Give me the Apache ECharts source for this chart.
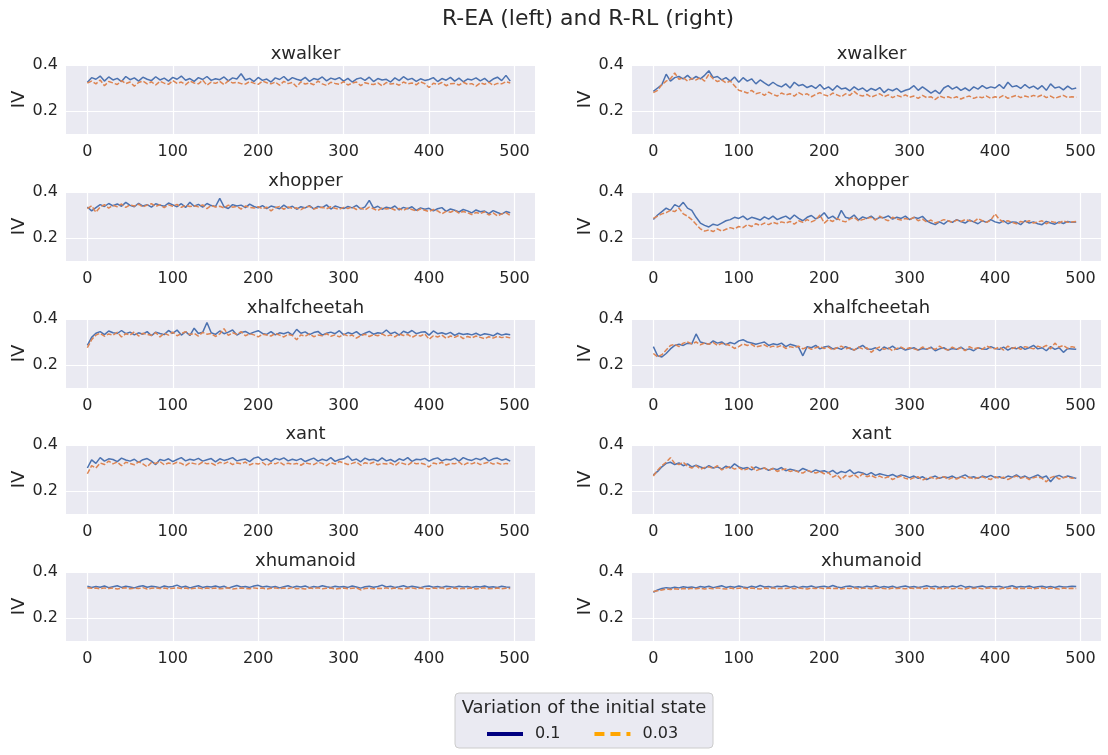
<!DOCTYPE html>
<html>
<head>
<meta charset="utf-8">
<script src="https://cdn.jsdelivr.net/npm/echarts@6/dist/echarts.min.js"></script>
<style>html,body{margin:0;padding:0;background:#fff}#chart{width:1108px;height:755px}</style>
</head>
<body>
<div id="chart"></div>
<script>
// x positions (iteration) of the sampled points
const steps = Array.from({length: 100}, (_, i) => i * 5);
const xTicks = [0, 100, 200, 300, 400, 500];
const yTicks = [0.2, 0.4];
const envNames = ['xwalker', 'xhopper', 'xhalfcheetah', 'xant', 'xhumanoid'];
const seriesNames = ['0.1', '0.03'];

// ---- R-EA (left column) ----
const eaWalker01 = [
.325,.345,.338,.352,.33,.348,.335,.342,.328,.35,
.336,.344,.33,.347,.338,.332,.349,.335,.343,.33,
.346,.338,.352,.334,.341,.329,.345,.337,.35,.333,
.34,.336,.348,.331,.344,.339,.362,.335,.342,.328,
.346,.333,.339,.326,.344,.337,.35,.332,.345,.338,
.333,.346,.329,.341,.336,.348,.331,.343,.337,.345,
.33,.342,.326,.339,.344,.333,.347,.328,.341,.335,
.338,.326,.344,.332,.349,.336,.342,.329,.34,.333,
.337,.345,.328,.341,.334,.346,.33,.343,.327,.339,
.335,.344,.331,.342,.326,.339,.347,.332,.355,.33];
const eaWalker003 = [
.322,.33,.318,.335,.31,.328,.322,.315,.332,.319,
.326,.308,.324,.33,.318,.327,.313,.329,.321,.316,
.332,.32,.326,.314,.33,.322,.318,.334,.312,.326,
.32,.329,.315,.331,.322,.325,.319,.317,.328,.321,
.316,.33,.323,.318,.326,.312,.329,.319,.324,.305,
.327,.317,.322,.314,.33,.318,.311,.325,.32,.316,
.328,.313,.321,.326,.31,.323,.318,.315,.322,.309,
.324,.317,.32,.312,.326,.318,.322,.314,.327,.319,
.302,.321,.315,.324,.31,.318,.32,.313,.325,.316,
.319,.308,.322,.316,.325,.312,.32,.318,.327,.322];
const eaHopper01 = [
.335,.318,.332,.345,.337,.35,.34,.348,.338,.355,
.342,.336,.351,.339,.345,.334,.349,.343,.338,.352,
.344,.336,.349,.333,.355,.338,.346,.334,.35,.341,
.337,.372,.336,.328,.345,.339,.343,.332,.347,.337,
.331,.341,.328,.339,.334,.327,.343,.33,.338,.325,
.336,.331,.341,.327,.337,.332,.344,.326,.339,.333,
.328,.337,.331,.342,.326,.335,.364,.33,.338,.325,
.334,.329,.339,.322,.333,.327,.336,.32,.331,.325,
.329,.318,.327,.332,.316,.326,.321,.313,.324,.318,
.309,.322,.314,.317,.306,.319,.311,.304,.315,.31];
const eaHopper003 = [
.328,.34,.312,.335,.345,.33,.342,.336,.348,.333,
.344,.339,.347,.335,.343,.349,.337,.345,.332,.344,
.338,.346,.333,.342,.337,.34,.336,.344,.328,.341,
.335,.338,.331,.343,.334,.337,.326,.339,.333,.33,
.336,.327,.334,.318,.332,.337,.325,.335,.329,.331,
.323,.334,.338,.326,.331,.334,.327,.336,.329,.325,
.333,.328,.335,.324,.33,.322,.334,.327,.319,.331,
.326,.33,.322,.328,.32,.33,.324,.317,.327,.321,
.315,.324,.318,.305,.316,.312,.32,.308,.315,.31,
.302,.311,.306,.314,.3,.309,.296,.305,.31,.298];
const eaCheetah01 = [
.285,.32,.338,.345,.332,.348,.34,.337,.35,.336,
.343,.331,.34,.334,.345,.327,.343,.337,.332,.35,
.338,.352,.33,.345,.328,.36,.337,.342,.385,.34,
.333,.348,.336,.343,.352,.33,.341,.346,.335,.343,
.349,.337,.333,.345,.331,.34,.336,.343,.33,.355,
.338,.344,.332,.341,.346,.33,.338,.343,.336,.349,
.331,.341,.335,.345,.33,.338,.346,.334,.34,.337,
.352,.336,.343,.33,.347,.339,.35,.336,.342,.345,
.33,.348,.336,.34,.334,.342,.329,.338,.333,.336,
.331,.338,.329,.336,.333,.327,.338,.33,.335,.332];
const eaCheetah003 = [
.275,.31,.33,.338,.325,.335,.33,.342,.322,.336,
.33,.344,.326,.338,.333,.329,.341,.322,.338,.33,
.343,.327,.336,.345,.332,.338,.326,.342,.334,.337,
.324,.335,.358,.329,.34,.333,.345,.327,.336,.331,
.322,.334,.33,.326,.337,.33,.322,.333,.328,.31,
.331,.325,.335,.323,.33,.327,.336,.325,.331,.322,
.334,.326,.33,.317,.328,.334,.324,.332,.327,.335,
.325,.331,.322,.336,.328,.333,.32,.33,.326,.335,
.312,.327,.322,.33,.316,.326,.32,.329,.315,.324,
.318,.326,.32,.314,.323,.317,.325,.319,.322,.318];
const eaAnt01 = [
.3,.335,.32,.345,.33,.34,.337,.328,.343,.335,
.33,.338,.324,.336,.341,.33,.315,.337,.332,.34,
.328,.337,.345,.331,.338,.334,.342,.33,.336,.341,
.327,.34,.333,.338,.345,.331,.336,.339,.328,.343,
.348,.333,.34,.329,.342,.336,.344,.331,.338,.333,
.341,.328,.336,.343,.33,.338,.332,.345,.329,.337,
.34,.352,.333,.339,.327,.343,.335,.338,.33,.344,
.331,.337,.327,.34,.333,.345,.329,.338,.336,.342,
.33,.339,.344,.331,.338,.335,.343,.33,.345,.337,
.333,.342,.336,.345,.331,.34,.343,.334,.339,.33];
const eaAnt003 = [
.275,.31,.3,.322,.315,.33,.318,.326,.31,.325,
.32,.314,.327,.318,.305,.324,.32,.328,.314,.322,
.317,.325,.32,.31,.323,.319,.315,.326,.318,.321,
.312,.325,.319,.327,.315,.322,.318,.326,.313,.321,
.317,.324,.31,.322,.318,.326,.314,.321,.316,.32,
.312,.323,.318,.315,.325,.32,.31,.324,.317,.328,
.322,.315,.32,.326,.312,.323,.318,.325,.314,.32,
.317,.322,.31,.324,.319,.313,.325,.318,.321,.316,
.304,.322,.317,.325,.313,.32,.318,.326,.312,.322,
.318,.325,.315,.321,.326,.317,.322,.315,.32,.318];
const eaHumanoid01 = [
.338,.333,.337,.334,.339,.332,.336,.34,.333,.338,
.335,.331,.337,.34,.334,.338,.336,.332,.339,.335,
.337,.343,.334,.338,.331,.336,.34,.333,.337,.335,
.339,.334,.338,.33,.336,.341,.335,.337,.333,.339,
.342,.335,.338,.334,.337,.331,.336,.34,.333,.338,
.335,.339,.332,.337,.334,.34,.336,.333,.338,.335,
.337,.333,.339,.335,.33,.336,.338,.334,.337,.343,
.335,.338,.333,.336,.34,.334,.338,.335,.332,.337,
.339,.334,.337,.333,.338,.336,.334,.338,.335,.337,
.333,.337,.335,.339,.334,.336,.333,.338,.335,.334];
const eaHumanoid003 = [
.332,.329,.33,.327,.331,.328,.33,.326,.329,.331,
.327,.33,.328,.332,.326,.329,.331,.328,.33,.327,
.329,.332,.328,.33,.326,.329,.331,.327,.33,.328,
.33,.327,.329,.331,.326,.328,.33,.329,.327,.331,
.328,.33,.326,.329,.331,.327,.33,.328,.332,.327,
.329,.326,.33,.328,.331,.327,.329,.33,.326,.328,
.33,.327,.329,.331,.322,.328,.33,.327,.329,.328,
.331,.327,.33,.328,.326,.329,.331,.327,.33,.328,
.327,.33,.328,.331,.326,.329,.33,.327,.329,.328,
.33,.326,.329,.331,.327,.328,.33,.327,.329,.328];

// ---- R-RL (right column) ----
const rlWalker01 = [
.285,.3,.315,.36,.33,.345,.35,.34,.355,.338,
.35,.34,.355,.375,.345,.35,.335,.345,.33,.348,
.325,.345,.33,.34,.318,.335,.322,.31,.325,.312,
.305,.318,.3,.325,.31,.315,.302,.31,.298,.315,
.295,.305,.29,.31,.296,.3,.288,.305,.292,.3,
.285,.298,.29,.302,.28,.295,.288,.298,.282,.29,
.296,.31,.29,.305,.292,.278,.29,.275,.3,.31,
.295,.305,.29,.3,.288,.305,.295,.31,.298,.305,
.3,.315,.298,.325,.305,.31,.298,.315,.3,.308,
.295,.31,.29,.318,.3,.305,.292,.308,.295,.3];
const rlWalker003 = [
.28,.29,.315,.33,.34,.365,.338,.345,.33,.342,
.335,.345,.33,.36,.34,.328,.335,.322,.33,.31,
.29,.285,.278,.29,.275,.28,.268,.282,.272,.265,
.278,.27,.275,.265,.28,.27,.275,.262,.272,.28,
.27,.265,.278,.27,.262,.275,.268,.285,.27,.265,
.272,.26,.268,.275,.262,.27,.258,.268,.262,.27,
.26,.265,.255,.268,.258,.262,.25,.265,.258,.262,
.255,.262,.252,.26,.265,.255,.262,.258,.265,.255,
.262,.258,.268,.255,.262,.268,.258,.265,.26,.268,
.262,.27,.258,.265,.255,.262,.268,.258,.262,.26];
const rlHopper01 = [
.28,.3,.315,.33,.32,.345,.335,.355,.33,.32,
.29,.265,.255,.248,.26,.255,.265,.275,.28,.29,
.285,.295,.28,.29,.285,.278,.292,.282,.295,.28,
.288,.295,.282,.3,.285,.275,.29,.298,.283,.292,
.31,.285,.295,.28,.32,.29,.285,.3,.278,.292,
.285,.295,.28,.29,.288,.296,.282,.29,.285,.295,
.28,.29,.285,.294,.275,.265,.258,.27,.26,.275,
.268,.28,.272,.265,.278,.27,.262,.275,.268,.28,
.27,.265,.275,.262,.27,.268,.258,.275,.265,.27,
.262,.258,.272,.265,.26,.27,.263,.272,.268,.27];
const rlHopper003 = [
.285,.295,.305,.31,.32,.315,.33,.305,.295,.28,
.26,.24,.23,.235,.228,.24,.23,.238,.245,.24,
.25,.245,.258,.25,.262,.255,.265,.258,.268,.262,
.27,.265,.272,.26,.275,.268,.28,.27,.278,.3,
.265,.28,.272,.285,.275,.27,.282,.29,.275,.28,
.285,.29,.278,.295,.282,.275,.29,.283,.278,.285,
.28,.29,.275,.282,.27,.278,.265,.272,.28,.275,
.268,.278,.272,.28,.275,.27,.285,.275,.268,.278,
.305,.28,.27,.275,.268,.262,.272,.268,.275,.265,
.27,.275,.262,.272,.268,.265,.275,.268,.27,.272];
const rlCheetah01 = [
.28,.24,.235,.25,.27,.285,.29,.285,.295,.292,
.335,.3,.295,.29,.305,.295,.3,.288,.298,.292,
.305,.31,.3,.296,.29,.295,.3,.285,.292,.288,
.295,.28,.29,.285,.278,.24,.28,.275,.285,.27,
.278,.282,.27,.275,.268,.28,.272,.265,.275,.285,
.27,.268,.275,.262,.278,.27,.282,.268,.275,.265,
.27,.275,.265,.272,.268,.278,.262,.27,.275,.265,
.272,.268,.278,.265,.27,.262,.275,.27,.268,.28,
.272,.268,.278,.265,.275,.27,.28,.268,.275,.285,
.27,.275,.262,.28,.268,.275,.255,.272,.27,.268];
const rlCheetah003 = [
.25,.235,.245,.265,.285,.29,.28,.295,.3,.292,
.3,.288,.296,.29,.298,.285,.294,.29,.285,.272,
.28,.292,.285,.29,.278,.283,.288,.276,.282,.278,
.285,.272,.28,.275,.282,.27,.278,.268,.275,.28,
.272,.278,.265,.275,.282,.27,.275,.265,.278,.27,
.275,.255,.27,.278,.268,.275,.262,.272,.278,.268,
.275,.27,.265,.278,.27,.275,.268,.282,.27,.265,
.278,.268,.275,.262,.28,.27,.275,.268,.282,.275,
.27,.278,.265,.282,.272,.278,.268,.28,.275,.27,
.282,.275,.285,.27,.295,.278,.285,.272,.28,.275];
const rlAnt01 = [
.27,.285,.305,.32,.325,.315,.322,.31,.318,.305,
.312,.305,.298,.31,.3,.305,.295,.308,.3,.318,
.305,.298,.302,.292,.305,.296,.3,.29,.298,.293,
.302,.288,.295,.29,.285,.298,.29,.282,.292,.285,
.288,.28,.29,.275,.285,.28,.292,.275,.283,.278,
.27,.28,.268,.275,.27,.265,.272,.262,.27,.265,
.258,.265,.255,.262,.25,.258,.265,.255,.262,.258,
.265,.255,.262,.27,.258,.262,.255,.265,.26,.268,
.258,.262,.255,.265,.26,.27,.258,.265,.255,.262,
.27,.258,.265,.24,.262,.268,.258,.265,.26,.255];
const rlAnt003 = [
.265,.29,.31,.325,.345,.32,.315,.325,.308,.3,
.31,.295,.302,.305,.298,.31,.292,.3,.306,.295,
.302,.29,.296,.305,.288,.295,.3,.29,.298,.285,
.292,.296,.285,.29,.282,.278,.29,.284,.278,.285,
.275,.28,.26,.27,.25,.268,.262,.272,.258,.275,
.262,.268,.258,.265,.255,.262,.25,.258,.265,.255,
.25,.258,.262,.248,.255,.26,.252,.258,.262,.25,
.258,.252,.262,.255,.26,.252,.258,.262,.255,.25,
.262,.255,.26,.25,.258,.265,.255,.262,.25,.258,
.262,.255,.24,.258,.265,.252,.258,.262,.255,.258];
const rlHumanoid01 = [
.312,.322,.328,.332,.329,.334,.331,.336,.333,.335,
.331,.337,.334,.338,.332,.336,.34,.333,.337,.334,
.339,.335,.332,.338,.334,.341,.335,.337,.333,.338,
.336,.34,.334,.338,.332,.337,.335,.339,.333,.336,
.338,.334,.341,.335,.332,.337,.339,.334,.336,.333,
.338,.335,.34,.333,.337,.334,.338,.332,.336,.339,
.334,.337,.333,.336,.34,.335,.338,.333,.337,.334,
.339,.335,.342,.334,.337,.333,.336,.339,.334,.337,
.335,.338,.333,.336,.34,.334,.337,.335,.339,.333,
.336,.338,.334,.337,.333,.338,.335,.336,.338,.337];
const rlHumanoid003 = [
.315,.318,.322,.326,.324,.327,.325,.328,.326,.329,
.327,.33,.326,.329,.327,.331,.328,.326,.33,.327,
.329,.331,.327,.33,.328,.326,.33,.328,.331,.327,
.329,.328,.331,.327,.33,.328,.326,.33,.328,.331,
.327,.33,.328,.329,.326,.33,.328,.331,.327,.329,
.33,.327,.329,.331,.328,.326,.33,.328,.329,.327,
.33,.328,.331,.327,.329,.33,.326,.329,.328,.331,
.327,.33,.328,.326,.33,.328,.331,.327,.329,.33,
.328,.326,.33,.328,.331,.327,.329,.328,.33,.327,
.329,.331,.327,.33,.328,.326,.33,.328,.329,.328];

const leftData = [
  [eaWalker01, eaWalker003], [eaHopper01, eaHopper003], [eaCheetah01, eaCheetah003],
  [eaAnt01, eaAnt003], [eaHumanoid01, eaHumanoid003]];
const rightData = [
  [rlWalker01, rlWalker003], [rlHopper01, rlHopper003], [rlCheetah01, rlCheetah003],
  [rlAnt01, rlAnt003], [rlHumanoid01, rlHumanoid003]];

const FONT = 'DejaVu Sans';
const TXT = '#262626';
const colLeft = [66, 632];
const gridW = 469, gridH = 69;
const rowTop = [65, 192, 319, 445, 572];
const lineColors = ['#4C72B0', '#DD8452'];

const grids = [], xAxes = [], yAxes = [], series = [], titles = [];
titles.push({text: 'R-EA (left) and R-RL (right)', left: 583, top: 3, textAlign: 'center',
  textStyle: {fontFamily: FONT, fontSize: 22, fontWeight: 'normal', color: TXT}});

let idx = 0;
for (let c = 0; c < 2; c++) {
  const colData = c === 0 ? leftData : rightData;
  for (let r = 0; r < 5; r++) {
    grids.push({left: colLeft[c], top: rowTop[r], width: gridW, height: gridH,
      show: true, backgroundColor: '#EAEAF2', borderWidth: 0, containLabel: false});
    titles.push({text: envNames[r], left: colLeft[c] + gridW / 2, top: rowTop[r] - 25, textAlign: 'center',
      textStyle: {fontFamily: FONT, fontSize: 18, fontWeight: 'normal', color: TXT}});
    xAxes.push({type: 'value', gridIndex: idx, min: -25, max: 524,
      axisLine: {show: false},
      axisTick: {show: false, customValues: xTicks},
      axisLabel: {customValues: xTicks, fontFamily: FONT, fontSize: 16, color: TXT, margin: 10},
      splitLine: {show: true, lineStyle: {color: '#ffffff', width: 1.2}}});
    yAxes.push({type: 'value', gridIndex: idx, min: 0.1, max: 0.4,
      name: 'IV', nameLocation: 'middle', nameGap: 38, nameRotate: 90,
      nameTextStyle: {fontFamily: FONT, fontSize: 18, color: TXT},
      axisLine: {show: false},
      axisTick: {show: false, customValues: yTicks},
      axisLabel: {customValues: yTicks, fontFamily: FONT, fontSize: 16, color: TXT, margin: 8,
        formatter: v => v.toFixed(1)},
      splitLine: {show: true, lineStyle: {color: '#ffffff', width: 1.2}}});
    const pair = colData[r];
    for (let s = 0; s < 2; s++) {
      series.push({type: 'line', name: seriesNames[s], xAxisIndex: idx, yAxisIndex: idx,
        data: steps.map((x, j) => [x, pair[s][j]]),
        symbol: 'none', showSymbol: false, animation: false,
        itemStyle: {color: lineColors[s]},
        lineStyle: {color: lineColors[s], width: 1.5, type: s === 0 ? 'solid' : [5, 2]}});
    }
    idx++;
  }
}

const chart = echarts.init(document.getElementById('chart'), null, {renderer: 'canvas'});
chart.setOption({
  backgroundColor: '#ffffff',
  animation: false,
  title: titles,
  grid: grids,
  xAxis: xAxes,
  yAxis: yAxes,
  series: series,
  legend: {
    left: 480, top: 721, itemWidth: 36, itemHeight: 14, itemGap: 32,
    textStyle: {fontFamily: FONT, fontSize: 16, color: TXT, padding: [0, 0, 0, 7]},
    data: [
      {name: '0.1', itemStyle: {color: '#000080', opacity: 0}, lineStyle: {color: '#000080', width: 4, type: 'solid'}},
      {name: '0.03', itemStyle: {color: '#FFA500', opacity: 0}, lineStyle: {color: '#FFA500', width: 4, type: [10, 6]}}
    ]
  },
  graphic: [
    {type: 'rect', x: 455, y: 693, z: -1,
      shape: {width: 258, height: 55, r: 4},
      style: {fill: '#EAEAF2', stroke: '#CCCCCC', lineWidth: 1}},
    {type: 'text', x: 584, y: 699, z: 10,
      style: {text: 'Variation of the initial state', textAlign: 'center', fontFamily: FONT, fontSize: 18, fill: TXT}}
  ]
});
</script>
</body>
</html>
